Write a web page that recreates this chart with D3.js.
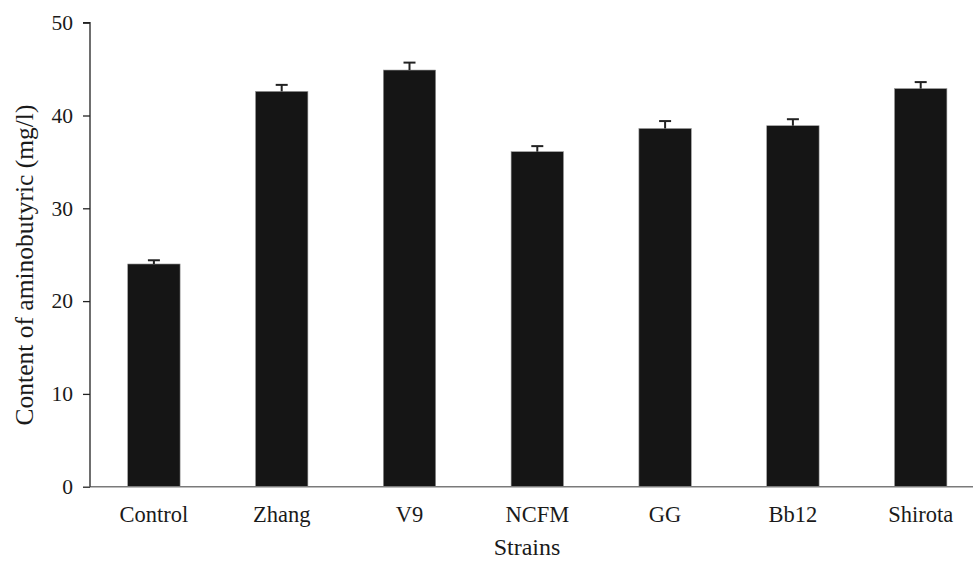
<!DOCTYPE html>
<html>
<head>
<meta charset="utf-8">
<script src="https://cdn.jsdelivr.net/npm/d3@7"></script>
<style>
  html, body { margin: 0; padding: 0; background: #fff; }
  svg { display: block; }
  text { font-family: "Liberation Serif", "DejaVu Serif", serif; fill: #1a1a1a; }
</style>
</head>
<body>
<svg id="chart" width="973" height="562"></svg>
<script>
// GABA content produced by each strain (mg/l), mean and upper error
const strains = ["Control", "Zhang", "V9", "NCFM", "GG", "Bb12", "Shirota"];
const means   = [24.0, 42.6, 44.9, 36.1, 38.6, 38.9, 42.9];
const errors  = [0.4, 0.7, 0.8, 0.6, 0.8, 0.7, 0.7];
const yTicks  = [0, 10, 20, 30, 40, 50];

const svg = d3.select("#chart");
const x0 = 90, yTop = 22.7, yBottom = 486.7;

const x = d3.scaleBand()
  .domain(strains)
  .range([x0, x0 + 7 * 127.8])
  .paddingInner(0.59)
  .paddingOuter(0.295);

const y = d3.scaleLinear().domain([0, 50]).range([yBottom, yTop]);

// bars
svg.append("g").selectAll("rect")
  .data(strains)
  .join("rect")
  .attr("x", d => x(d))
  .attr("width", x.bandwidth())
  .attr("y", (d, i) => y(means[i]))
  .attr("height", (d, i) => y(0) - y(means[i]))
  .attr("fill", "#151515")
  .attr("stroke", "#9a9a9a")
  .attr("stroke-width", 0.6);

// upper error bars
const eb = svg.append("g").attr("stroke", "#222").attr("stroke-width", 2);
strains.forEach((s, i) => {
  const cx = x(s) + x.bandwidth() / 2;
  eb.append("line")
    .attr("x1", cx).attr("x2", cx)
    .attr("y1", y(means[i])).attr("y2", y(means[i] + errors[i]));
  eb.append("line")
    .attr("x1", cx - 6).attr("x2", cx + 6)
    .attr("y1", y(means[i] + errors[i])).attr("y2", y(means[i] + errors[i]));
});

// x axis baseline
svg.append("line")
  .attr("x1", x0).attr("x2", 973)
  .attr("y1", y(0)).attr("y2", y(0))
  .attr("stroke", "#7a7a7a").attr("stroke-width", 1.5);

// y axis
const yAxis = d3.axisLeft(y).tickValues(yTicks).tickSize(7).tickPadding(10).tickFormat(d3.format("d"));
const gy = svg.append("g").attr("transform", `translate(${x0},0)`).call(yAxis);
gy.select(".domain").attr("stroke", "#222").attr("stroke-width", 1.3).attr("d", `M-7,${yTop}H0V${yBottom}`);
gy.selectAll(".tick line").attr("stroke", "#222").attr("stroke-width", 1.3);
gy.selectAll(".tick text").attr("font-size", 21.5).attr("font-family", "Liberation Serif").attr("fill", "#1a1a1a");

// category labels
svg.append("g").selectAll("text")
  .data(strains)
  .join("text")
  .attr("x", d => x(d) + x.bandwidth() / 2)
  .attr("y", 522)
  .attr("text-anchor", "middle")
  .attr("font-size", 22.5)
  .text(d => d);

// axis titles
svg.append("text")
  .attr("x", 527).attr("y", 555)
  .attr("text-anchor", "middle")
  .attr("font-size", 24)
  .text("Strains");

svg.append("text")
  .attr("transform", "translate(33,265) rotate(-90)")
  .attr("text-anchor", "middle")
  .attr("font-size", 25.5)
  .text("Content of aminobutyric (mg/l)");
</script>
</body>
</html>
